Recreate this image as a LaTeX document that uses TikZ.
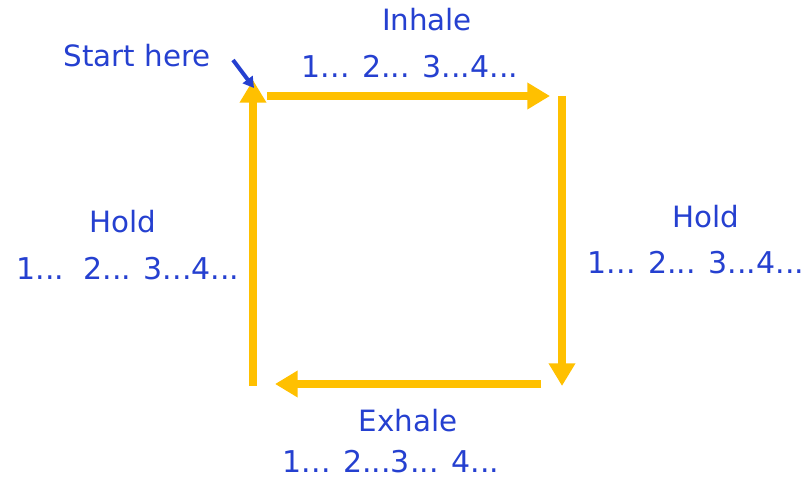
\documentclass[tikz,border=0pt]{standalone}
\usepackage{fontspec}
\setmainfont{DejaVu Sans}
\usetikzlibrary{arrows.meta}
\definecolor{gold}{HTML}{FFC000}
\definecolor{ink}{HTML}{2540D0}
\begin{document}
\begin{tikzpicture}[x=0.75pt,y=-0.75pt,
  lbl/.style={text=ink,font=\fontsize{22}{26}\selectfont,inner sep=0pt},
  num/.style={text=ink,font=\fontsize{22.5}{26}\selectfont,inner sep=0pt},
  flow/.style={draw=gold,line width=6pt,-{Triangle[length=17pt,width=19pt]}}]
\useasboundingbox (0,0) rectangle (806,481);
% arrow endpoints
\coordinate (a1) at (267,96);
\coordinate (a2) at (550,96);
\coordinate (b1) at (562,96);
\coordinate (b2) at (562,386);
\coordinate (c1) at (541,384);
\coordinate (c2) at (275,384);
\coordinate (d1) at (253,386);
\coordinate (d2) at (253,80);
\draw[flow] (a1) -- (a2);
\draw[flow] (b1) -- (b2);
\draw[flow] (c1) -- (c2);
\draw[flow] (d1) -- (d2);
% labels
\node[lbl] (start) at (137,56) {Start here};
\node[lbl] (inh) at (427,20) {Inhale};
\node[num] (inhn) at (410,67) {1... 2... 3...4...};
\node[lbl] (holdl) at (123,222) {Hold};
\node[num] (holdln) at (128,269) {1...\ \ 2... 3...4...};
\node[lbl] (holdr) at (706,217) {Hold};
\node[num] (holdrn) at (696,263) {1... 2... 3...4...};
\node[lbl] (exh) at (408,421) {Exhale};
\node[num] (exhn) at (391,462) {1... 2...3... 4...};
% start pointer
\coordinate (p1) at (233,60);
\coordinate (p2) at (254,88);
\draw[ink,line width=3pt,-{Triangle[length=8pt,width=9pt]}] (p1) -- (p2);
\end{tikzpicture}
\end{document}
